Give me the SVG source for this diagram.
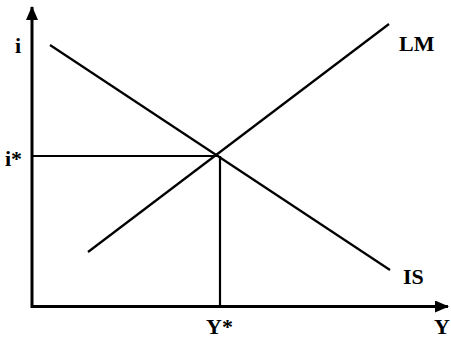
<svg xmlns="http://www.w3.org/2000/svg" width="451" height="340" viewBox="0 0 451 340">
<style>
.ax{stroke:#000;stroke-width:3;fill:none}
.ln{stroke:#000;stroke-width:2.2;fill:none}
.tx{font-family:"Liberation Serif","Times New Roman",serif;font-weight:bold;font-size:22px;fill:#000}
</style>
<defs>
<marker id="ah" viewBox="0 0 14 12" refX="13" refY="6" markerWidth="14" markerHeight="12" markerUnits="userSpaceOnUse" orient="auto">
<path d="M0,0 L14,6 L0,12 Z" fill="#000"/>
</marker>
</defs>
<rect width="451" height="340" fill="#fff"/>
<g id="connectors">
<line id="y-axis" class="ax" x1="32" y1="308" x2="32" y2="7" marker-end="url(#ah)"/>
<line id="x-axis" class="ax" x1="31" y1="306.5" x2="448" y2="306.5" marker-end="url(#ah)"/>
<line id="IS-curve" class="ln" x1="50" y1="45" x2="390" y2="270"/>
<line id="LM-curve" class="ln" x1="88" y1="252" x2="389" y2="24"/>
<line id="i-star-line" class="ln" x1="32" y1="156" x2="219" y2="156"/>
<line id="y-star-line" class="ln" x1="220" y1="156" x2="220" y2="306"/>
</g>
<g id="label-i"><text class="tx" x="15" y="53">i</text></g>
<g id="label-istar"><text class="tx" x="5" y="166">i*</text></g>
<g id="label-LM"><text class="tx" x="399" y="51">LM</text></g>
<g id="label-IS"><text class="tx" x="403" y="284">IS</text></g>
<g id="label-Ystar"><text class="tx" x="206" y="334">Y*</text></g>
<g id="label-Y"><text class="tx" x="434" y="334">Y</text></g>
</svg>
